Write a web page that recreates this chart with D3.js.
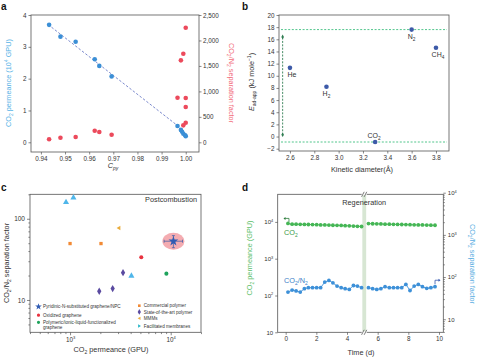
<!DOCTYPE html>
<html><head><meta charset="utf-8">
<script src="https://cdn.jsdelivr.net/npm/d3@7"></script>
<style>body{margin:0;background:#fff}svg{font-family:"Liberation Sans",Arial,sans-serif}</style>
</head><body><svg id="c" width="480" height="358"></svg>
<script>
// ---------- DATA ----------
// panel a
const aBlueCpy = [0.9434,0.9481,0.9544,0.9623,0.9642,0.9693,0.9966,0.998,0.9985,0.999,0.9998,1.0];
const aBluePerm = [3.69,3.32,3.16,2.61,2.40,2.07,0.51,0.39,0.33,0.27,0.22,0.19];
const aRedCpy = [0.9434,0.9481,0.9544,0.9623,0.9642,0.9693,0.9966,0.998,0.999,1.0,1.0,1.0,1.0,0.999];
const aRedSep = [59,90,104,228,202,150,876,1610,1740,2250,870,693,385,333];
const aFitX = [0.943,0.9965];
const aFitY = [3.70,0.53];
const aXTicks = [0.94,0.95,0.96,0.97,0.98,0.99,1.00];
const aYLTicks = [0,1,2,3,4];
const aYRTicks = [0,500,1000,1500,2000,2500];
// panel b
const bGas = ["He","H2","CO2","N2","CH4"];
const bDiam = [2.6,2.9,3.3,3.6,3.8];
const bE = [11.3,8.2,-0.9,17.6,14.6];
const bLines = [17.6,-0.9];
const bXTicks = [2.6,2.8,3.0,3.2,3.4,3.6,3.8];
const bYTicks = [-2,0,2,4,6,8,10,12,14,16,18,20];
// panel c
const cFacX = [912,1080,4070], cFacY = [160,182,19.8];
const cComX = [1000,2030], cComY = [49.5,49.5];
const cMmmX = [3050], cMmmY = [77];
const cOxX = [5100], cOxY = [33.6];
const cPilX = [9060], cPilY = [21.1];
const cSotaX = [1950,2650,3360], cSotaY = [12.8,13.8,21.7];
const cStarX = [10640], cStarY = [52.9];
const cStarXErr = [8600,13100], cStarYErr = [44,62];
// panel d
const dT1 = [0.15,0.42,0.68,0.95,1.22,1.48,1.75,2.02,2.28,2.55,2.82,3.08,3.35,3.62,3.88,4.15,4.42,4.68,4.95];
const dT2 = [5.4,5.67,5.94,6.21,6.48,6.76,7.03,7.3,7.57,7.84,8.11,8.38,8.65,8.92,9.2,9.47,9.74];
const dCO2a = [9100,8700,8650,8600,8550,8500,8450,8400,8300,8250,8200,8100,8050,8000,7900,7800,7700,7600,7500];
const dCO2b = [9000,8900,8850,8800,8700,8650,8600,8550,8500,8450,8400,8350,8300,8250,8200,8150,8100];
const dSepA = [44,49,47,44,53,56,56,56,56,76,83,73,61,56,53,51,63,61,56];
const dSepB = [56,53,51,53,59,56,56,56,56,67,48,61,67,59,54,56,59];
const dXTicks = [0,2,4,6,8,10];
const dLogTicks = [10,100,1000,10000];

// ---------- HELPERS ----------
const svg = d3.select('#c');
const AX = '#555', TX = '#333', TFS = 6.3;
function style(g, fs){
  g.select('.domain').remove();
  g.selectAll('line').attr('stroke',AX).attr('stroke-width',0.7);
  g.selectAll('text').attr('fill',TX).attr('font-size',fs||TFS);
  g.selectAll('text').filter(function(){return !this.textContent;}).remove();
  return g;
}
function rich(t, parts, fs){
  let pend = 0;
  parts.forEach(p=>{
    if(typeof p==='string'){
      const s = t.append('tspan').attr('font-size',fs).text(p);
      if(pend) s.attr('dy',pend);
      pend = 0;
    } else {
      const sh = p.sub ? fs*0.3 : -fs*0.42;
      t.append('tspan').attr('font-size',fs*0.68).attr('dy',pend+sh).text(p.t);
      pend = -sh;
    }
  });
  return t;
}
function pow10Labels(g, fs){
  g.selectAll('.tick text').each(function(d){
    const t = d3.select(this); t.text(null);
    const e = Math.round(Math.log10(d));
    t.append('tspan').text('10');
    if(e!==1) t.append('tspan').attr('dy',-2.6).attr('font-size',fs*0.65).text(e);
  });
}
function frame(x0,y0,x1,y1){
  svg.append('rect').attr('x',x0).attr('y',y0).attr('width',x1-x0).attr('height',y1-y0)
    .attr('fill','none').attr('stroke',AX).attr('stroke-width',0.8);
}
function panelLabel(x,y,s){
  svg.append('text').attr('x',x).attr('y',y).attr('font-weight','bold').attr('font-size',10).attr('fill','#111').text(s);
}

// ---------- PANEL A ----------
(function(){
  const x = d3.scaleLinear().domain([0.9359,1.0055]).range([31,199]);
  const yl = d3.scaleLinear().domain([-0.305,4]).range([152,15]);
  const yr = d3.scaleLinear().domain([-190,2500]).range([152,15]);
  frame(31,15,199,152);
  style(svg.append('g').attr('transform','translate(0,152)').call(d3.axisBottom(x).tickValues(aXTicks).tickFormat(d3.format('.2f')).tickSize(2.5).tickPadding(2)));
  style(svg.append('g').attr('transform','translate(31,0)').call(d3.axisLeft(yl).tickValues(aYLTicks).tickFormat(d3.format('d')).tickSize(2.5).tickPadding(2)));
  style(svg.append('g').attr('transform','translate(199,0)').call(d3.axisRight(yr).tickValues(aYRTicks).tickFormat(d3.format(',')).tickSize(2.5).tickPadding(1.5)));
  svg.append('line').attr('x1',x(aFitX[0])).attr('y1',yl(aFitY[0])).attr('x2',x(aFitX[1])).attr('y2',yl(aFitY[1]))
    .attr('stroke','#5a6cc0').attr('stroke-width',0.8).attr('stroke-dasharray','2.5,1.8');
  svg.append('g').selectAll('circle').data(aBlueCpy).join('circle')
    .attr('cx',d=>x(d)).attr('cy',(d,i)=>yl(aBluePerm[i])).attr('r',2.3).attr('fill','#3b8fd6');
  svg.append('g').selectAll('circle').data(aRedCpy).join('circle')
    .attr('cx',d=>x(d)).attr('cy',(d,i)=>yr(aRedSep[i])).attr('r',2.3).attr('fill','#ec4a5c');
  rich(svg.append('text').attr('transform','translate(11,83) rotate(-90)').attr('text-anchor','middle').attr('fill','#55b2e6'),
    ['CO',{t:'2',sub:true},' permeance (10',{t:'4'},' GPU)'],7.3);
  rich(svg.append('text').attr('transform','translate(229,83) rotate(90)').attr('text-anchor','middle').attr('fill','#f26e7c'),
    ['CO',{t:'2',sub:true},'/N',{t:'2',sub:true},' separation factor'],7.3);
  rich(svg.append('text').attr('x',113).attr('y',168).attr('text-anchor','middle').attr('fill',TX).attr('font-style','italic'),
    ['C',{t:'py',sub:true}],7.3);
  panelLabel(1,10,'a');
})();

// ---------- PANEL B ----------
(function(){
  const x = d3.scaleLinear().domain([2.51,3.907]).range([279,449]);
  const y = d3.scaleLinear().domain([-2.38,20]).range([151,15]);
  frame(279,15,449,151);
  style(svg.append('g').attr('transform','translate(0,151)').call(d3.axisBottom(x).tickValues(bXTicks).tickFormat(d3.format('.1f')).tickSize(2.5).tickPadding(2)));
  style(svg.append('g').attr('transform','translate(279,0)').call(d3.axisLeft(y).tickValues(bYTicks).tickFormat(d3.format('d')).tickSize(2.5).tickPadding(2)));
  bLines.forEach(v=>svg.append('line').attr('x1',281).attr('x2',447).attr('y1',y(v)).attr('y2',y(v))
    .attr('stroke','#3fbf80').attr('stroke-width',0.9).attr('stroke-dasharray','2,1.6'));
  const vx = x(2.54);
  svg.append('line').attr('x1',vx).attr('x2',vx).attr('y1',y(0.3)).attr('y2',y(16.4))
    .attr('stroke','#2f7d52').attr('stroke-width',0.9).attr('stroke-dasharray','2,1.4');
  [0.3,16.4].forEach(v=>svg.append('path').attr('d',d3.symbol(d3.symbolDiamond,6)()).attr('transform',`translate(${vx},${y(v)})`).attr('fill','#2f7d52'));
  svg.append('g').selectAll('circle').data(bDiam).join('circle')
    .attr('cx',d=>x(d)).attr('cy',(d,i)=>y(bE[i])).attr('r',2.3).attr('fill','#3d5aa8');
  const fs=7;
  const lab = (i,dx,dy)=> svg.append('text').attr('x',x(bDiam[i])+dx).attr('y',y(bE[i])+dy).attr('text-anchor','middle').attr('fill',TX);
  rich(lab(0,2,9),['He'],fs);
  rich(lab(1,0,9.5),['H',{t:'2',sub:true}],fs);
  rich(lab(2,-1,-4),['CO',{t:'2',sub:true}],fs);
  rich(lab(3,0,9),['N',{t:'2',sub:true}],fs);
  rich(lab(4,2,9),['CH',{t:'4',sub:true}],fs);
  rich(svg.append('text').attr('x',362).attr('y',172).attr('text-anchor','middle').attr('fill',TX),['Kinetic diameter(Å)'],7.3);
  const yt = svg.append('text').attr('transform','translate(254,82) rotate(-90)').attr('text-anchor','middle').attr('fill',TX);
  yt.append('tspan').attr('font-size',7.3).attr('font-style','italic').text('E');
  yt.append('tspan').attr('font-size',5).attr('dy',2).text('ad-app');
  yt.append('tspan').attr('font-size',7.3).attr('dy',-2).text(' (kJ mole');
  yt.append('tspan').attr('font-size',5).attr('dy',-3).text('−1');
  yt.append('tspan').attr('font-size',7.3).attr('dy',3).text(')');
  panelLabel(242,10,'b');
})();

// ---------- PANEL C ----------
(function(){
  const x = d3.scaleLog().domain([400,20000]).range([30,201]);
  const y = d3.scaleLog().domain([4,200]).range([332.3,194.3]);
  frame(30,194.3,201,332.3);
  const gx = style(svg.append('g').attr('transform','translate(0,332.3)').call(d3.axisBottom(x).tickValues([1000,10000]).tickSize(3).tickPadding(2)),6.3);
  pow10Labels(gx,6.3);
  style(svg.append('g').attr('transform','translate(0,332.3)').call(d3.axisBottom(x).tickValues([400,500,600,700,800,900,2000,3000,4000,5000,6000,7000,8000,9000,20000]).tickFormat('').tickSize(1.8)));
  style(svg.append('g').attr('transform','translate(30,0)').call(d3.axisLeft(y).tickValues([10,100]).tickFormat(d3.format('d')).tickSize(3).tickPadding(2)),6.5);
  style(svg.append('g').attr('transform','translate(30,0)').call(d3.axisLeft(y).tickValues([5,6,7,8,9,20,30,40,50,60,70,80,90,200]).tickFormat('').tickSize(1.6)));
  const sx=x(cStarX[0]), sy=y(cStarY[0]);
  svg.append('ellipse').attr('cx',sx).attr('cy',sy).attr('rx',11).attr('ry',8.5).attr('fill','#f29ea3').attr('opacity',0.85);
  const eb = svg.append('g').attr('stroke','#3559a8').attr('stroke-width',0.7);
  eb.append('line').attr('x1',x(cStarXErr[0])).attr('x2',x(cStarXErr[1])).attr('y1',sy).attr('y2',sy);
  eb.append('line').attr('y1',y(cStarYErr[0])).attr('y2',y(cStarYErr[1])).attr('x1',sx).attr('x2',sx);
  cStarXErr.forEach(v=>eb.append('line').attr('x1',x(v)).attr('x2',x(v)).attr('y1',sy-1.5).attr('y2',sy+1.5));
  cStarYErr.forEach(v=>eb.append('line').attr('y1',y(v)).attr('y2',y(v)).attr('x1',sx-1.5).attr('x2',sx+1.5));
  const sym = (t,s)=>d3.symbol(t,s)();
  const leftTri = 'M-2.2,0L1.6,-2.2L1.6,2.2Z', rightTri='M2.2,0L-1.6,-2.2L-1.6,2.2Z';
  const put = (xs,ys,path,col)=>svg.append('g').selectAll('path').data(xs).join('path')
    .attr('d',path).attr('fill',col).attr('transform',(d,i)=>`translate(${x(d)},${y(ys[i])})`);
  put(cFacX,cFacY,sym(d3.symbolTriangle,16),'#4fb6ea');
  put(cComX,cComY,sym(d3.symbolSquare,11),'#f28a35');
  put(cMmmX,cMmmY,leftTri,'#e9ac3c');
  put(cOxX,cOxY,sym(d3.symbolCircle,13),'#e8323f');
  put(cPilX,cPilY,sym(d3.symbolCircle,13),'#1fa35c');
  put(cSotaX,cSotaY,sym(d3.symbolDiamond,16),'#5a4aa0');
  put(cStarX,cStarY,sym(d3.symbolStar,30),'#2f5bb3');
  svg.append('text').attr('x',197).attr('y',202).attr('text-anchor','end').attr('font-size',7.3).attr('fill',TX).text('Postcombustion');
  const lfs=4.6;
  const L = [
    [38.5,306.7,sym(d3.symbolStar,14),'#2f5bb3',['Pyridinic-N-substituted graphene/NPC']],
    [38.5,315.2,sym(d3.symbolCircle,8),'#e8323f',['Oxidized graphene']],
    [38.5,322.3,sym(d3.symbolCircle,8),'#1fa35c',['Polymeric/ionic-liquid-functionalized','graphene']],
    [139.3,305.7,sym(d3.symbolSquare,7),'#f28a35',['Commercial polymer']],
    [139.3,311.9,sym(d3.symbolDiamond,9),'#5a4aa0',['State-of-the-art polymer']],
    [139.3,318.3,leftTri,'#e9ac3c',['MMMs']],
    [139.3,326,rightTri,'#27b6c8',['Facilitated membranes']],
  ];
  L.forEach(([lx,ly,p,c,txt])=>{
    svg.append('path').attr('d',p).attr('fill',c).attr('transform',`translate(${lx},${ly})`+(p===leftTri||p===rightTri?' scale(0.75)':''));
    txt.forEach((s,k)=>svg.append('text').attr('x',lx+4.5).attr('y',ly+1.6+k*5.2).attr('font-size',lfs).attr('fill',TX).text(s));
  });
  rich(svg.append('text').attr('x',111).attr('y',352).attr('text-anchor','middle').attr('fill',TX),['CO',{t:'2',sub:true},' permeance (GPU)'],7.3);
  rich(svg.append('text').attr('transform','translate(9,263) rotate(-90)').attr('text-anchor','middle').attr('fill',TX),
    ['CO',{t:'2',sub:true},'/N',{t:'2',sub:true},' separation factor'],7.3);
  panelLabel(1,191,'c');
})();

// ---------- PANEL D ----------
(function(){
  const x = d3.scaleLinear().domain([-0.52,10.28]).range([277.7,443.3]);
  const yl = d3.scaleLog().domain([10,Math.pow(10,4.75)]).range([332.3,194.3]);
  const yr = d3.scaleLog().domain([4.9,10000]).range([332.3,192.7]);
  svg.append('rect').attr('x',x(5.0)).attr('y',194.3).attr('width',x(5.25)-x(5.0)).attr('height',138).attr('fill','#d7e6d3');
  frame(277.7,194.3,443.3,332.3);
  style(svg.append('g').attr('transform','translate(0,332.3)').call(d3.axisBottom(x).tickValues(dXTicks).tickFormat(d3.format('d')).tickSize(2.5).tickPadding(2)));
  const gl = style(svg.append('g').attr('transform','translate(277.7,0)').call(d3.axisLeft(yl).tickValues(dLogTicks).tickSize(2.5).tickPadding(2)),6);
  pow10Labels(gl,6);
  const gr = style(svg.append('g').attr('transform','translate(443.3,0)').call(d3.axisRight(yr).tickValues(dLogTicks).tickSize(2.5).tickPadding(2)),6);
  pow10Labels(gr,6);
  const minors=[]; [1,10,100,1000].forEach(b=>[2,3,4,5,6,7,8,9].forEach(m=>{const v=b*m; if(v>=5&&v<10000) minors.push(v);}));
  style(svg.append('g').attr('transform','translate(443.3,0)').call(d3.axisRight(yr).tickValues(minors).tickFormat('').tickSize(1.5)));
  const bx = x(5.12);
  [194.3,332.3].forEach(by=>{
    svg.append('rect').attr('x',bx-2.5).attr('y',by-1).attr('width',5).attr('height',2).attr('fill','#fff');
    [-1.3,1.3].forEach(o=>svg.append('line').attr('x1',bx+o-1.3).attr('y1',by+2.5).attr('x2',bx+o+1.3).attr('y2',by-2.5).attr('stroke','#444').attr('stroke-width',0.7));
  });
  const drawSeries=(ts,vs,sc,col)=>{
    svg.append('path').attr('d',d3.line().x(d=>x(d)).y((d,i)=>sc(vs[i]))(ts)).attr('fill','none').attr('stroke',col).attr('stroke-width',0.9);
    svg.append('g').selectAll('circle').data(ts).join('circle').attr('cx',d=>x(d)).attr('cy',(d,i)=>sc(vs[i])).attr('r',1.9).attr('fill',col);
  };
  drawSeries(dT1,dCO2a,yl,'#45b655');
  drawSeries(dT2,dCO2b,yl,'#45b655');
  drawSeries(dT1,dSepA,yr,'#3d90d8');
  drawSeries(dT2,dSepB,yr,'#3d90d8');
  const ax0=x(dT1[0]), ay0=yl(dCO2a[0]);
  svg.append('path').attr('d',`M${ax0+1},${ay0-1.5}L${ax0+1},${ay0-5}L${ax0-3},${ay0-5}`).attr('fill','none').attr('stroke','#2e7d3e').attr('stroke-width',0.8);
  svg.append('path').attr('d',`M${ax0-4.5},${ay0-5}L${ax0-2.5},${ay0-6.5}L${ax0-2.5},${ay0-3.5}Z`).attr('fill','#2e7d3e');
  const bx1=x(dT2[dT2.length-1]), by1=yr(dSepB[dSepB.length-1]);
  svg.append('path').attr('d',`M${bx1},${by1-2.5}L${bx1},${by1-6.5}L${bx1+4},${by1-6.5}`).attr('fill','none').attr('stroke','#3558b0').attr('stroke-width',0.8);
  svg.append('path').attr('d',`M${bx1+5.5},${by1-6.5}L${bx1+3.5},${by1-8}L${bx1+3.5},${by1-5}Z`).attr('fill','#3558b0');
  svg.append('text').attr('x',x(5.12)).attr('y',205).attr('text-anchor','middle').attr('font-size',7.3).attr('fill',TX).text('Regeneration');
  rich(svg.append('text').attr('x',284).attr('y',235).attr('fill','#3a9a48'),['CO',{t:'2',sub:true}],7.3);
  rich(svg.append('text').attr('x',284).attr('y',283).attr('fill','#3d7fc8'),['CO',{t:'2',sub:true},'/N',{t:'2',sub:true}],7.3);
  rich(svg.append('text').attr('x',361).attr('y',355).attr('text-anchor','middle').attr('fill',TX),['Time (d)'],7.3);
  rich(svg.append('text').attr('transform','translate(252,258) rotate(-90)').attr('text-anchor','middle').attr('fill','#5cc06a'),
    ['CO',{t:'2',sub:true},' permeance (GPU)'],7.3);
  rich(svg.append('text').attr('transform','translate(470,264) rotate(90)').attr('text-anchor','middle').attr('fill','#5aaee2'),
    ['CO',{t:'2',sub:true},'/N',{t:'2',sub:true},' separation factor'],7.3);
  panelLabel(242,191,'d');
})();
</script></body></html>
